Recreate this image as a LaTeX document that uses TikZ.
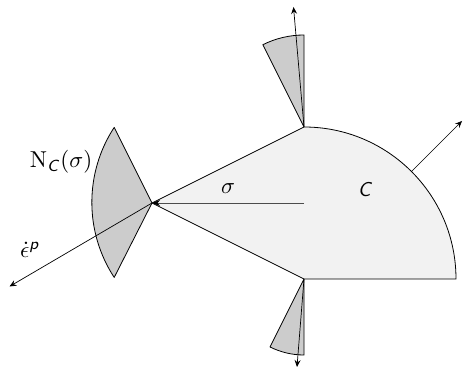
\documentclass[tikz,border=0pt]{standalone}
\usepackage{amsmath}
\usetikzlibrary{arrows.meta}
\definecolor{setfill}{HTML}{F2F2F2}
\definecolor{conefill}{HTML}{CCCCCC}
\begin{document}
\begin{tikzpicture}[x=1pt,y=1pt,
  edge/.style={line width=0.8pt, black},
  cone/.style={edge, fill=conefill, line join=round},
  vec/.style={line width=0.7pt, -{Stealth[length=7pt,width=6pt,inset=2.5pt]}},
  lbl/.style={inner sep=0pt, scale=2.3, transform shape}]
\useasboundingbox (0,0) rectangle (463,369);
% key points
\coordinate (V) at (152,166);
\coordinate (T) at (304,242);
\coordinate (B) at (304,90);
\coordinate (E) at (456,90);
\coordinate (M) at (304,166);
% set C
\draw[edge, fill=setfill, line join=miter] (V) -- (T) arc[start angle=90, end angle=0, radius=152] -- (B) -- cycle;
% normal cones
\draw[cone] (T) -- ++(90:92) arc[start angle=90, end angle=116.57, radius=92] -- cycle;
\draw[cone] (B) -- ++(270:76) arc[start angle=270, end angle=243.43, radius=76] -- cycle;
\coordinate (Lt) at (114.2,241.6);
\coordinate (Lb) at (114.2,90.4);
\draw[cone] (V) -- (Lt) arc[start angle=146.8, end angle=213.2, radius=137] -- cycle;
% vectors
\coordinate (Ttip) at (293.5,362);
\coordinate (Btip) at (297,2);
\coordinate (Ltip) at (9.5,82.5);
\coordinate (R0) at (411.5,197.5);
\coordinate (Rtip) at (462,248);
\draw[vec] (T) -- (Ttip);
\draw[vec] (B) -- (Btip);
\draw[vec] (V) -- (Ltip);
\draw[vec] (R0) -- (Rtip);
\draw[line width=0.8pt, draw=black!70, -{Stealth[length=8pt,width=6pt,inset=2.5pt,black]}] (M) -- (V);
% labels
\node[lbl] (sig) at (228,180.5) {$\sigma$};
\node[lbl, scale=0.87] (Cl) at (365,179) {\textsf{\textit{C}}};
\node[lbl] (N) at (61,207) {$\mathrm{N}_{\textsf{\textit{C}}}(\sigma)$};
\node[lbl] (eps) at (30,119) {$\dot{\epsilon}^{\textsf{\textit{p}}}$};
\end{tikzpicture}
\end{document}
